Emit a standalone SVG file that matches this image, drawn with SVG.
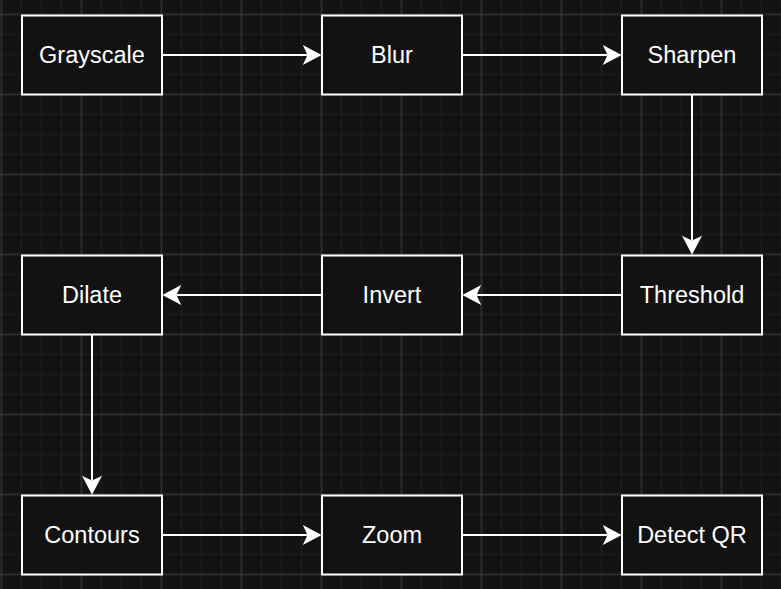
<svg xmlns="http://www.w3.org/2000/svg" width="781" height="589" viewBox="0 0 781 589">
  <style>
    .node rect { fill: #121212; stroke: #ffffff; stroke-width: 2; }
    .node text { fill: #ffffff; font-family: "Liberation Sans", Arial, Helvetica, sans-serif; font-size: 23.5px; text-anchor: middle; }
    .edge { fill: none; stroke: #ffffff; stroke-width: 2; marker-end: url(#arrow); }
  </style>
  <defs>
    <pattern id="gMinor" width="20" height="20" patternUnits="userSpaceOnUse" x="-8.5" y="4.5">
      <path d="M10,0V20M0,10H20" stroke="#202020" stroke-width="1" fill="none"/>
    </pattern>
    <pattern id="gMajor" width="80" height="80" patternUnits="userSpaceOnUse" x="-38.5" y="-25.5">
      <path d="M40,0V80M0,40H80" stroke="#3c3c3c" stroke-width="1" fill="none"/>
    </pattern>
    <marker id="arrow" markerUnits="userSpaceOnUse" markerWidth="20" markerHeight="20" viewBox="0 0 18 19" refX="4.5" refY="9.5" orient="auto">
      <path d="M0,0 L18,9.5 L0,19 L4.5,9.5 Z" fill="#ffffff"/>
    </marker>
  </defs>
  <g id="background">
    <rect width="781" height="589" fill="#121212"/>
    <rect width="781" height="589" fill="url(#gMinor)"/>
    <rect width="781" height="589" fill="url(#gMajor)"/>
  </g>
  <g id="connectors">
    <path class="edge" d="M162,55 H307.5"/>
    <path class="edge" d="M462,55 H607.5"/>
    <path class="edge" d="M692,94.5 V240.5"/>
    <path class="edge" d="M622,295 H476.5"/>
    <path class="edge" d="M322,295 H176.5"/>
    <path class="edge" d="M92,334.5 V480.5"/>
    <path class="edge" d="M162,535 H307.5"/>
    <path class="edge" d="M462,535 H607.5"/>
  </g>
  <g id="node-grayscale" class="node"><rect x="22" y="15.5" width="140" height="79"/><text x="92" y="63">Grayscale</text></g>
  <g id="node-blur" class="node"><rect x="322" y="15.5" width="140" height="79"/><text x="392" y="63">Blur</text></g>
  <g id="node-sharpen" class="node"><rect x="622" y="15.5" width="140" height="79"/><text x="692" y="63">Sharpen</text></g>
  <g id="node-threshold" class="node"><rect x="622" y="255.5" width="140" height="79"/><text x="692" y="303">Threshold</text></g>
  <g id="node-invert" class="node"><rect x="322" y="255.5" width="140" height="79"/><text x="392" y="303">Invert</text></g>
  <g id="node-dilate" class="node"><rect x="22" y="255.5" width="140" height="79"/><text x="92" y="303">Dilate</text></g>
  <g id="node-contours" class="node"><rect x="22" y="495.5" width="140" height="79"/><text x="92" y="543">Contours</text></g>
  <g id="node-zoom" class="node"><rect x="322" y="495.5" width="140" height="79"/><text x="392" y="543">Zoom</text></g>
  <g id="node-detectqr" class="node"><rect x="622" y="495.5" width="140" height="79"/><text x="692" y="543">Detect QR</text></g>
</svg>
